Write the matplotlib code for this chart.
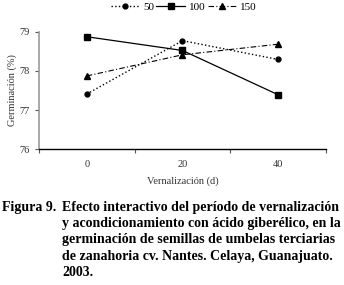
import matplotlib
matplotlib.use("Agg")
import matplotlib.pyplot as plt

plt.rcParams['font.family'] = ['Liberation Serif', 'DejaVu Serif']

# data
categories = ['0', '20', '40']
series_names = ['50', '100', '150']
germ_50 = [77.41, 78.77, 78.29]
germ_100 = [78.87, 78.52, 77.39]
germ_150 = [77.87, 78.41, 78.68]
y_ticks = [76, 77, 78, 79]

caption_head = 'Figura 9.'
caption_lines = [
    'Efecto interactivo del período de vernalización',
    'y acondicionamiento con ácido giberélico, en la',
    'germinación de semillas de umbelas terciarias',
    'de zanahoria cv. Nantes. Celaya, Guanajuato.',
    '2003.',
]

fig = plt.figure(figsize=(3.44, 2.85), dpi=100)
ax = fig.add_axes([0.113, 0.476, 0.835, 0.413])

x = range(len(categories))
ax.plot(x, germ_50, color='black', linestyle=':', lw=1, marker='o', ms=3.5, label=series_names[0])
ax.plot(x, germ_100, color='black', linestyle='-', lw=0.9, marker='s', ms=4, label=series_names[1])
ax.plot(x, germ_150, color='black', linestyle=(0, (5, 2, 1, 2)), lw=0.8, marker='^', ms=4, label=series_names[2])

ax.set_xlim(-0.5, 2.5)
ax.set_ylim(76, 79)
ax.set_yticks(y_ticks)
ax.set_yticklabels([str(t) for t in y_ticks], fontsize=7.5, color='#333333')
ax.set_xticks([-0.5, 0.5, 1.5, 2.5])
ax.set_xticklabels([])
ax.set_xticks(list(x), minor=True)
ax.set_xticklabels(categories, minor=True, fontsize=7.5, color='#333333')
ax.tick_params(axis='x', which='minor', length=0, pad=8)
ax.tick_params(axis='both', which='major', length=3, width=0.8, color='#555555')

for s in ['top', 'right']:
    ax.spines[s].set_visible(False)
ax.spines['left'].set_color('#999999')
ax.spines['left'].set_linewidth(1.2)
ax.spines['bottom'].set_color('black')
ax.spines['bottom'].set_linewidth(1.0)

ax.set_ylabel('Germinación (%)', fontsize=7.5, color='#333333', labelpad=2)
ax.set_xlabel('Vernalización (d)', fontsize=7.5, color='#333333', labelpad=5)

fig.legend(loc='center', bbox_to_anchor=(0.534, 0.976), ncol=3, frameon=False,
           fontsize=8, handlelength=2.6, handletextpad=0.3, columnspacing=0.2,
           borderaxespad=0)

fig.text(2 / 344, 1 - 207 / 285, caption_head, fontsize=10, fontweight='bold', va='center', ha='left')
for i, line in enumerate(caption_lines):
    fig.text(62 / 344, 1 - (207 + 16.5 * i) / 285, line, fontsize=10, fontweight='bold',
             va='center', ha='left')

fig.savefig('out.png', dpi=100)
